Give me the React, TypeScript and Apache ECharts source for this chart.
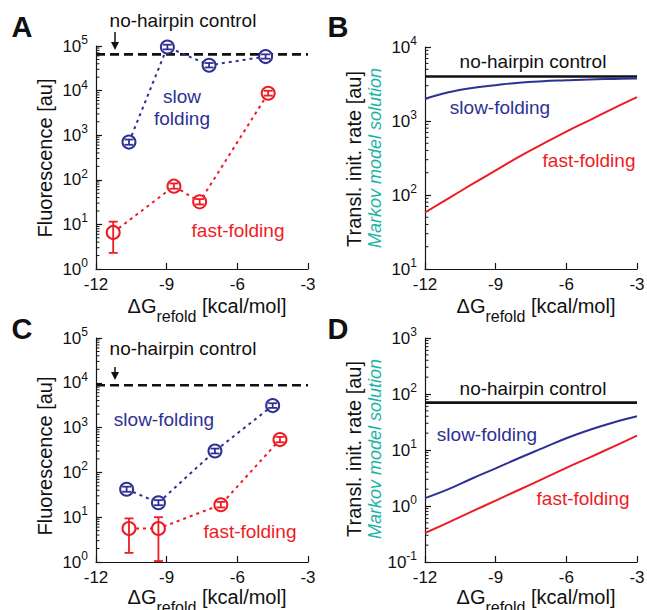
import React, { useEffect, useRef } from 'react';
import * as echarts from 'echarts';

const FONT = '"Liberation Sans", Arial, Helvetica, sans-serif';
const BLUE = '#2e3192';
const RED = '#ed1c24';
const TEAL = '#1db3a4';
const INK = '#151515';

const X_TICK_MIN = -12;
const X_TICK_MAX = -3;
const MINOR_MULTS = [2, 3, 4, 5, 6, 7, 8, 9];

// ---------- Panel A (measured fluorescence) ----------
const A_SLOW_X = [-10.6, -8.97, -7.2, -4.8];
const A_SLOW_Y = [700, 95000, 37000, 58000];
const A_SLOW_LO = [610, 84000, 33000, 52000];
const A_SLOW_HI = [800, 107000, 41500, 65000];
const A_FAST_X = [-11.27, -8.69, -7.6, -4.69];
const A_FAST_Y = [6.6, 72, 32, 8700];
const A_FAST_LO = [2.3, 63, 28, 7700];
const A_FAST_HI = [11.5, 83, 37, 9900];
const A_CONTROL = 65000;

// ---------- Panel B (Markov model) ----------
const B_X = [-12, -11, -10, -9, -8, -7, -6, -5, -4, -3];
const B_SLOW = [2000, 2450, 2800, 3050, 3300, 3450, 3550, 3650, 3700, 3750];
const B_FAST = [58, 90, 140, 215, 330, 490, 720, 1030, 1480, 2100];
const B_CONTROL = 4000;

// ---------- Panel C (measured fluorescence) ----------
const C_SLOW_X = [-10.7, -9.35, -6.95, -4.5];
const C_SLOW_Y = [42, 21, 300, 3100];
const C_SLOW_LO = [37, 18.5, 265, 2750];
const C_SLOW_HI = [48, 24, 340, 3500];
const C_FAST_X = [-10.6, -9.35, -6.7, -4.19];
const C_FAST_Y = [5.6, 5.6, 19, 540];
const C_FAST_LO = [1.6, 1.05, 16.5, 470];
const C_FAST_HI = [9.4, 10, 22, 620];
const C_CONTROL = 8800;

// ---------- Panel D (Markov model) ----------
const D_X = [-12, -11, -10, -9, -8, -7, -6, -5, -4, -3];
const D_SLOW = [1.38, 2.0, 3.1, 4.7, 7.2, 10.8, 16.2, 23, 31, 40];
const D_FAST = [0.33, 0.51, 0.8, 1.25, 1.95, 3.05, 4.8, 7.4, 11.5, 18];
const D_CONTROL = 70;

const GRIDS = [
  { left: 96, top: 46, width: 212, height: 223 },
  { left: 425, top: 47, width: 212, height: 222 },
  { left: 96, top: 338, width: 212, height: 224 },
  { left: 425, top: 338, width: 212, height: 224 },
];
const Y_RANGES: [number, number][] = [
  [1, 1e5],
  [10, 1e4],
  [1, 1e5],
  [0.1, 1e3],
];

function xAxisCfg(gi: number) {
  return {
    type: 'value',
    gridIndex: gi,
    min: X_TICK_MIN,
    max: X_TICK_MAX,
    interval: 3,
    axisLine: { show: true, onZero: false, lineStyle: { color: INK, width: 1.2 } },
    axisTick: { show: true, inside: true, length: 6, lineStyle: { color: INK, width: 1.2 } },
    splitLine: { show: false },
    axisLabel: { fontSize: 17, color: '#111', fontFamily: FONT, margin: 7 },
  };
}

function yAxisCfg(gi: number) {
  const [mn, mx] = Y_RANGES[gi];
  return {
    type: 'log',
    logBase: 10,
    gridIndex: gi,
    min: mn,
    max: mx,
    splitNumber: Math.round(Math.log10(mx / mn)),
    axisLine: { show: true, lineStyle: { color: INK, width: 1.2 } },
    axisTick: { show: true, inside: true, length: 6, lineStyle: { color: INK, width: 1.2 } },
    splitLine: { show: false },
    minorTick: { show: false },
    axisLabel: {
      fontSize: 17,
      color: '#111',
      fontFamily: FONT,
      margin: 8,
      lineHeight: 24,
      showMinLabel: true,
      showMaxLabel: true,
      formatter: (v: number) => '10{sup|' + Math.round(Math.log10(v)) + '}',
      rich: {
        sup: { fontSize: 12, lineHeight: 12, verticalAlign: 'top', fontFamily: FONT, color: '#111' },
      },
    },
  };
}

function minorTickSeries(gi: number) {
  const [mn, mx] = Y_RANGES[gi];
  const e0 = Math.round(Math.log10(mn));
  const e1 = Math.round(Math.log10(mx));
  const data: number[][] = [];
  for (let e = e0; e < e1; e++) {
    for (const m of MINOR_MULTS) data.push([X_TICK_MIN, m * Math.pow(10, e)]);
  }
  return {
    type: 'custom',
    xAxisIndex: gi,
    yAxisIndex: gi,
    silent: true,
    z: 1,
    encode: { x: 0, y: 1 },
    data,
    renderItem: (_p: any, api: any) => {
      const pt = api.coord([api.value(0), api.value(1)]);
      return {
        type: 'line',
        shape: { x1: pt[0], y1: pt[1], x2: pt[0] + 3.5, y2: pt[1] },
        style: { stroke: INK, lineWidth: 1 },
      };
    },
  };
}

function measuredSeries(gi: number, xs: number[], ys: number[], lo: number[], hi: number[], color: string) {
  return [
    {
      type: 'line',
      xAxisIndex: gi,
      yAxisIndex: gi,
      silent: true,
      z: 3,
      data: xs.map((x, i) => [x, ys[i]]),
      symbol: 'circle',
      symbolSize: 13,
      showSymbol: true,
      itemStyle: { color: '#ffffff', borderColor: color, borderWidth: 2 },
      lineStyle: { color, width: 2, type: [3, 4] },
      emphasis: { disabled: true },
    },
    {
      type: 'custom',
      xAxisIndex: gi,
      yAxisIndex: gi,
      silent: true,
      z: 4,
      encode: { x: 0, y: [1, 2] },
      data: xs.map((x, i) => [x, lo[i], hi[i]]),
      renderItem: (_p: any, api: any) => {
        const x = api.value(0);
        const p1 = api.coord([x, api.value(1)]);
        const p2 = api.coord([x, api.value(2)]);
        const st = { stroke: color, lineWidth: 1.8 };
        return {
          type: 'group',
          children: [
            { type: 'line', shape: { x1: p1[0], y1: p1[1], x2: p2[0], y2: p2[1] }, style: st },
            { type: 'line', shape: { x1: p1[0] - 4.5, y1: p1[1], x2: p1[0] + 4.5, y2: p1[1] }, style: st },
            { type: 'line', shape: { x1: p2[0] - 4.5, y1: p2[1], x2: p2[0] + 4.5, y2: p2[1] }, style: st },
          ],
        };
      },
    },
  ];
}

function curveSeries(gi: number, xs: number[], ys: number[], color: string) {
  return {
    type: 'line',
    xAxisIndex: gi,
    yAxisIndex: gi,
    silent: true,
    z: 3,
    smooth: 0.4,
    showSymbol: false,
    data: xs.map((x, i) => [x, ys[i]]),
    lineStyle: { color, width: 2 },
    emphasis: { disabled: true },
  };
}

function controlSeries(gi: number, v: number, dashed: boolean) {
  return {
    type: 'line',
    xAxisIndex: gi,
    yAxisIndex: gi,
    silent: true,
    z: 2,
    showSymbol: false,
    data: [
      [X_TICK_MIN, v],
      [X_TICK_MAX, v],
    ],
    lineStyle: { color: '#111', width: 2.6, type: dashed ? [9, 5] : 'solid' },
    emphasis: { disabled: true },
  };
}

function txt(x: number, y: number, text: string, color: string, fontSize: number, extra: any = {}) {
  return {
    type: 'text',
    x,
    y,
    silent: true,
    z: 10,
    rotation: extra.rotation || 0,
    style: {
      text,
      fill: color,
      fontSize,
      fontFamily: FONT,
      fontWeight: extra.fontWeight || 'normal',
      fontStyle: extra.fontStyle || 'normal',
      align: 'center',
      verticalAlign: 'middle',
      lineHeight: extra.lineHeight,
    },
  };
}

function xName(x: number, y: number) {
  return {
    type: 'text',
    x,
    y,
    silent: true,
    style: {
      text: 'ΔG{sub|refold} [kcal/mol]',
      fill: '#111',
      fontSize: 20,
      fontFamily: FONT,
      lineHeight: 36,
      align: 'center',
      verticalAlign: 'middle',
      rich: {
        sub: { fontSize: 16, lineHeight: 16, verticalAlign: 'bottom', fontFamily: FONT, fill: '#111', color: '#111' },
      },
    },
  };
}

function arrow(x: number, y0: number, tip: number) {
  return [
    { type: 'line', silent: true, shape: { x1: x, y1: y0, x2: x, y2: tip - 6 }, style: { stroke: '#111', lineWidth: 1.5 } },
    {
      type: 'polygon',
      silent: true,
      shape: { points: [[x - 4, tip - 8], [x + 4, tip - 8], [x, tip]] },
      style: { fill: '#111' },
    },
  ];
}

export default function App() {
  const ref = useRef<HTMLDivElement>(null);
  useEffect(() => {
    if (!ref.current) return;
    const chart = echarts.init(ref.current, null, { renderer: 'svg' });
    const option: any = {
      animation: false,
      backgroundColor: '#ffffff',
      grid: GRIDS.map((g) => ({ ...g, containLabel: false, outerBoundsMode: 'none' })),
      xAxis: [0, 1, 2, 3].map(xAxisCfg),
      yAxis: [0, 1, 2, 3].map(yAxisCfg),
      series: [
        ...[0, 1, 2, 3].map(minorTickSeries),
        controlSeries(0, A_CONTROL, true),
        ...measuredSeries(0, A_SLOW_X, A_SLOW_Y, A_SLOW_LO, A_SLOW_HI, BLUE),
        ...measuredSeries(0, A_FAST_X, A_FAST_Y, A_FAST_LO, A_FAST_HI, RED),
        controlSeries(1, B_CONTROL, false),
        curveSeries(1, B_X, B_SLOW, BLUE),
        curveSeries(1, B_X, B_FAST, RED),
        controlSeries(2, C_CONTROL, true),
        ...measuredSeries(2, C_SLOW_X, C_SLOW_Y, C_SLOW_LO, C_SLOW_HI, BLUE),
        ...measuredSeries(2, C_FAST_X, C_FAST_Y, C_FAST_LO, C_FAST_HI, RED),
        controlSeries(3, D_CONTROL, false),
        curveSeries(3, D_X, D_SLOW, BLUE),
        curveSeries(3, D_X, D_FAST, RED),
      ],
      graphic: [
        // panel letters
        txt(22, 27, 'A', '#111', 29, { fontWeight: 'bold' }),
        txt(338, 27, 'B', '#111', 29, { fontWeight: 'bold' }),
        txt(22, 329, 'C', '#111', 29, { fontWeight: 'bold' }),
        txt(338, 329, 'D', '#111', 29, { fontWeight: 'bold' }),
        // y-axis names
        txt(45, 158, 'Fluorescence [au]', '#111', 20, { rotation: Math.PI / 2 }),
        txt(45, 456, 'Fluorescence [au]', '#111', 20, { rotation: Math.PI / 2 }),
        txt(354, 159, 'Transl. init. rate [au]', '#111', 20, { rotation: Math.PI / 2 }),
        txt(375, 158, 'Markov model solution', TEAL, 18, { rotation: Math.PI / 2, fontStyle: 'italic' }),
        txt(354, 449, 'Transl. init. rate [au]', '#111', 20, { rotation: Math.PI / 2 }),
        txt(375, 449, 'Markov model solution', TEAL, 18, { rotation: Math.PI / 2, fontStyle: 'italic' }),
        // x-axis names
        xName(207, 306),
        xName(536, 306),
        xName(207, 597),
        xName(536, 597),
        // annotations A
        txt(183, 20, 'no-hairpin control', '#111', 19),
        ...arrow(115, 32, 50),
        txt(182, 107, 'slow\nfolding', BLUE, 19, { lineHeight: 22 }),
        txt(238, 230, 'fast-folding', RED, 19),
        // annotations B
        txt(533, 61, 'no-hairpin control', '#111', 19),
        txt(500, 107, 'slow-folding', BLUE, 19),
        txt(589, 160, 'fast-folding', RED, 19),
        // annotations C
        txt(183, 348, 'no-hairpin control', '#111', 19),
        ...arrow(115, 367, 380),
        txt(164, 419, 'slow-folding', BLUE, 19),
        txt(250, 531, 'fast-folding', RED, 19),
        // annotations D
        txt(533, 388, 'no-hairpin control', '#111', 19),
        txt(487, 434, 'slow-folding', BLUE, 19),
        txt(583, 498, 'fast-folding', RED, 19),
      ],
    };
    chart.setOption(option);
    return () => chart.dispose();
  }, []);
  return (
    <div
      ref={ref}
      style={{ position: 'fixed', left: 0, top: 0, width: 647, height: 610, background: '#fff' }}
    />
  );
}
